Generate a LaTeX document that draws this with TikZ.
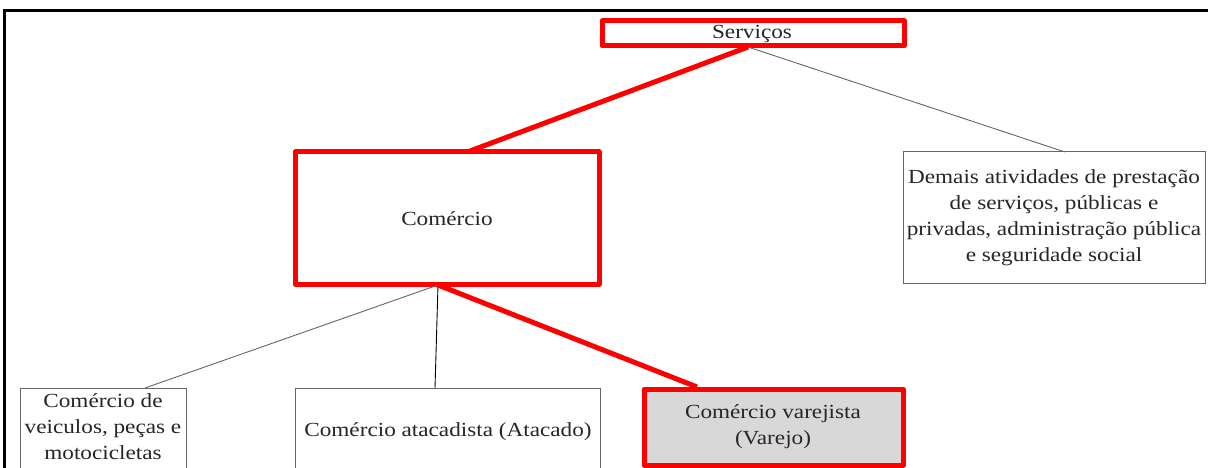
\documentclass[tikz,border=0pt]{standalone}
\usepackage{fontspec}
\setmainfont[FakeStretch=1.16]{Liberation Serif}
\definecolor{hl}{RGB}{255,0,0}
\definecolor{boxfill}{RGB}{216,216,216}
\begin{document}
\begin{tikzpicture}[x=1pt,y=-1pt,
  redbox/.style={draw=hl,line width=5pt,line join=round},
  thinbox/.style={draw=black!60,line width=1pt},
  txt/.style={font=\fontsize{20}{26}\selectfont,align=center,text=black!85,inner sep=0pt},
  redline/.style={draw=hl,line width=5pt},
  thinline/.style={draw=black!60,line width=0.9pt}]
\useasboundingbox (0,0) rectangle (1208,468);
\fill[white] (0,0) rectangle (1208,468);
% frame
\draw[line width=3pt] (4,480) -- (4,11) -- (1215,11);
% boxes
\draw[redbox] (602,21) rectangle (904,46);
\node[txt] (serv) at (752,34) {Serviços};
\coordinate (servB) at (748,47);
\draw[redbox] (295,152) rectangle (599,284);
\node[txt] (com) at (447,219) {Comércio};
\coordinate (comB) at (438,285);
\coordinate (comT) at (470,151);
\draw[thinbox] (903,152) rectangle (1205,283);
\node[txt] (dem) at (1054,218) {Demais atividades de prestação\\de serviços, públicas e\\privadas, administração pública\\e seguridade social};
\coordinate (demT) at (1065,152);
\draw[thinbox] (20,388) rectangle (186,475);
\node[txt,anchor=north] (vei) at (103,393) {Comércio de\\veiculos, peças e\\motocicletas};
\coordinate (veiT) at (145,388);
\draw[thinbox] (295,388) rectangle (600,475);
\node[txt] (ata) at (448,432) {Comércio atacadista (Atacado)};
\coordinate (ataT) at (435,388);
\draw[redbox,fill=boxfill] (644,389) rectangle (903,465);
\node[txt] (var) at (773,427) {Comércio varejista\\(Varejo)};
\coordinate (varT) at (697,387);
% connectors
\draw[redline] (servB) -- (comT);
\draw[thinline] (servB) -- (demT);
\draw[thinline] (comB) -- (veiT);
\draw[draw=black,line width=0.9pt] (comB) -- (ataT);
\draw[redline] (comB) -- (varT);
\end{tikzpicture}
\end{document}
